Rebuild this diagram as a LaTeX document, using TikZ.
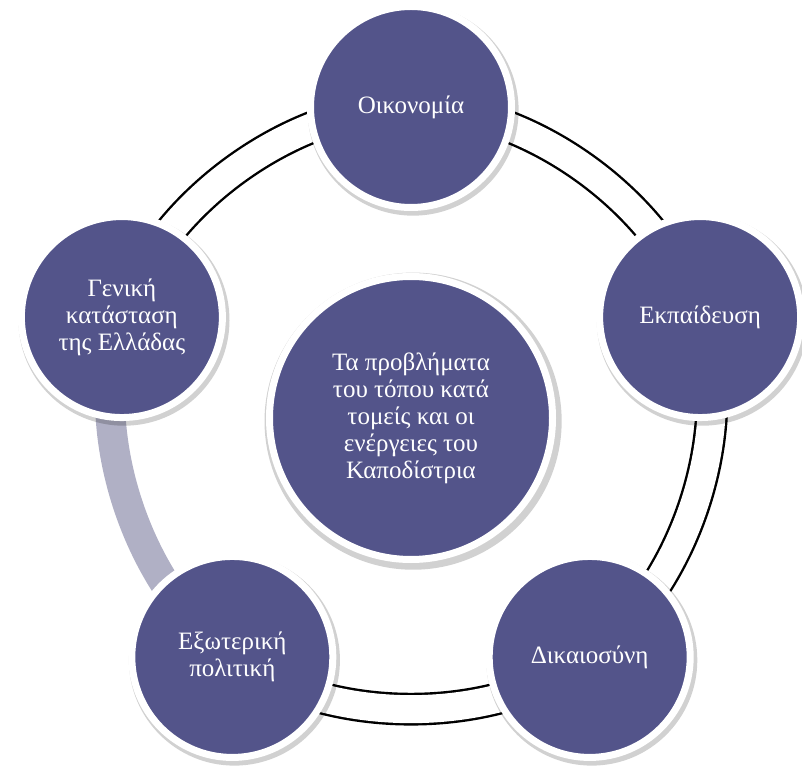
\documentclass[tikz,border=0pt]{standalone}
\usepackage{fontspec}
\setmainfont{Liberation Serif}
\usetikzlibrary{shadows,backgrounds}
\definecolor{sectorfill}{RGB}{83,84,138}
\definecolor{ringgray}{RGB}{176,176,197}
\begin{document}
\begin{tikzpicture}[x=1pt,y=1pt,
        main node/.style={circle,draw=white,line width=7pt,fill=sectorfill,
            minimum size=201pt,inner sep=0pt,outer sep=0pt,text=white,align=center,
            font=\fontsize{25}{27}\selectfont,
            drop shadow={shadow xshift=2pt,shadow yshift=-3pt,shadow scale=1.05,fill=black,opacity=0.18}},
        hub node/.style={main node,minimum size=283pt},
        ring/.style={draw=black,line width=2.4pt,double=white,double distance=28pt,
            bend left=36,looseness=0.85},
        gray ring/.style={draw=ringgray,line width=30pt,bend left=36,looseness=0.85}]
    \useasboundingbox (-411,-359) rectangle (391,411);

    \node[hub node] (0) at (0,-7) {Τα προβλήματα\\του τόπου κατά\\τομείς και οι\\ενέργειες του\\Καποδίστρια};
    \node[main node] (1) at (90:304)   {Οικονομία};
    \node[main node] (2) at (18:304)   {Εκπαίδευση};
    \node[main node] (3) at (-54:304)  {Δικαιοσύνη};
    \node[main node] (4) at (-126:304) {Εξωτερική\\πολιτική};
    \node[main node] (5) at (162:304)  {Γενική\\κατάσταση\\της Ελλάδας};

    \begin{scope}[on background layer]
    \path
    (1.center) edge[ring] (2.center)
    (2.center) edge[ring] (3.center)
    (3.center) edge[ring] (4.center)
    (5.center) edge[ring] (1.center);
    \path
    (4.center) edge[gray ring] (5.center);
    \end{scope}

\end{tikzpicture}
\end{document}
